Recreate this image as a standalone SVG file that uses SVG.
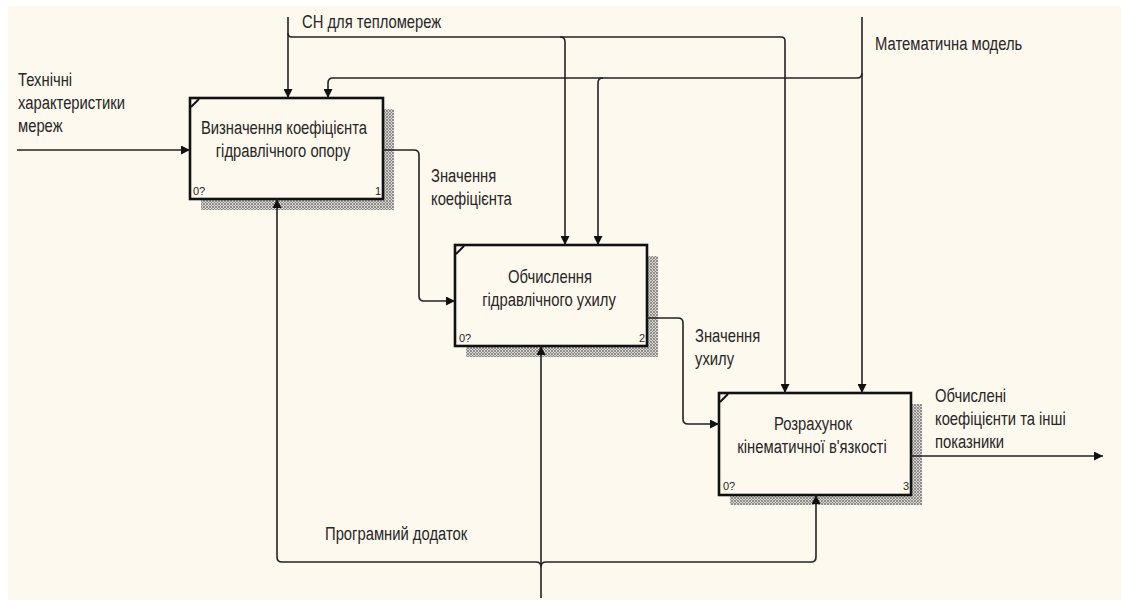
<svg xmlns="http://www.w3.org/2000/svg" width="1121" height="601" viewBox="0 0 1121 601">
  <style>
    .bg { fill: #fef9ef; }
    .box { fill: #fef9ef; stroke: #111; stroke-width: 2.6; }
    .shadow { fill: url(#hatch); }
    .corner { stroke: #111; stroke-width: 2; }
    .line { fill: none; stroke: #222; stroke-width: 1.6; }
    .arrow { marker-end: url(#head); }
    text { font-family: "Liberation Sans", Arial, sans-serif; fill: #262626; }
    .lbl { font-size: 14.8px; }
    .ctr { text-anchor: middle; }
    .num { font-size: 11px; }
    .end { text-anchor: end; }
  </style>
  <defs>
    <pattern id="hatch" width="3" height="3" patternUnits="userSpaceOnUse">
      <rect width="3" height="3" fill="#dcd9d2"/>
      <path d="M0,0 L3,3 M3,0 L0,3" stroke="#7a7a7a" stroke-width="0.8"/>
    </pattern>
    <marker id="head" viewBox="0 0 10 10" refX="10" refY="5" markerWidth="10" markerHeight="9" markerUnits="userSpaceOnUse" orient="auto">
      <path d="M0,0 L10,5 L0,10 Z" fill="#111"/>
    </marker>
  </defs>

  <!-- page -->
  <rect x="0" y="0" width="1121" height="601" fill="#ffffff"/>
  <rect class="bg" x="8" y="6" width="1113" height="594"/>

  <!-- activity boxes -->
  <g id="node-1">
    <rect class="shadow" x="201" y="109" width="193" height="101"/>
    <rect class="box" x="190" y="98" width="193" height="101"/>
    <line class="corner" x1="191" y1="107" x2="199" y2="99"/>
    <text class="lbl ctr" transform="matrix(1,0,0,1.18,284,134)">Визначення коефіцієнта</text>
    <text class="lbl ctr" transform="matrix(1,0,0,1.18,283,157)">гідравлічного опору</text>
    <text class="num" x="193" y="195">0?</text>
    <text class="num end" x="381" y="195">1</text>
  </g>

  <g id="node-2">
    <rect class="shadow" x="466" y="256" width="192" height="101"/>
    <rect class="box" x="455" y="245" width="192" height="101"/>
    <line class="corner" x1="456" y1="254" x2="464" y2="246"/>
    <text class="lbl ctr" transform="matrix(1,0,0,1.18,550,283)">Обчислення</text>
    <text class="lbl ctr" transform="matrix(1,0,0,1.18,549,306)">гідравлічного ухилу</text>
    <text class="num" x="459" y="342">0?</text>
    <text class="num end" x="645" y="342">2</text>
  </g>

  <g id="node-3">
    <rect class="shadow" x="730" y="404" width="192" height="101"/>
    <rect class="box" x="719" y="393" width="192" height="102"/>
    <line class="corner" x1="720" y1="402" x2="728" y2="394"/>
    <text class="lbl ctr" transform="matrix(1,0,0,1.18,813,430)">Розрахунок</text>
    <text class="lbl ctr" transform="matrix(1,0,0,1.18,812,453)">кінематичної в'язкості</text>
    <text class="num" x="723" y="490">0?</text>
    <text class="num end" x="909" y="490">3</text>
  </g>

  <!-- arrows -->
  <g id="connectors">
    <!-- input to box 1 -->
    <path class="line arrow" d="M17,150 H190"/>
    <!-- control: СН для тепломереж -->
    <path class="line arrow" d="M288,17 V98"/>
    <path class="line" d="M288,33 Q288,37 292,37 H781 Q785,37 785,41"/>
    <path class="line arrow" d="M785,41 V393"/>
    <path class="line" d="M560,37 Q565,37 565,42"/>
    <path class="line arrow" d="M565,42 V245"/>
    <!-- control: Математична модель -->
    <path class="line arrow" d="M862,17 V393"/>
    <path class="line" d="M862,73 Q862,78 857,78 H333 Q328,78 328,83"/>
    <path class="line arrow" d="M328,83 V98"/>
    <path class="line" d="M603,78 Q598,78 598,83"/>
    <path class="line arrow" d="M598,83 V245"/>
    <!-- box 1 to box 2 -->
    <path class="line arrow" d="M383,150 H414 Q419,150 419,155 V296 Q419,301 424,301 H455"/>
    <!-- box 2 to box 3 -->
    <path class="line arrow" d="M647,318 H678 Q683,318 683,323 V419 Q683,424 688,424 H719"/>
    <!-- output of box 3 -->
    <path class="line arrow" d="M911,456 H1103"/>
    <!-- mechanism: Програмний додаток -->
    <path class="line arrow" d="M541,598 V346"/>
    <path class="line" d="M536,562 H282 Q277,562 277,557"/>
    <path class="line arrow" d="M277,557 V199"/>
    <path class="line" d="M546,562 H811 Q816,562 816,557"/>
    <path class="line arrow" d="M816,557 V495"/>
    <path class="line" d="M536,562 Q541,562 541,567 Q541,562 546,562"/>
  </g>

  <!-- arrow labels -->
  <g id="labels">
    <text class="lbl" transform="matrix(1,0,0,1.18,18,86)">Технічні</text>
    <text class="lbl" transform="matrix(1,0,0,1.18,18,109)">характеристики</text>
    <text class="lbl" transform="matrix(1,0,0,1.18,18,132)">мереж</text>
    <text class="lbl" transform="matrix(1,0,0,1.18,302,28)">СН для тепломереж</text>
    <text class="lbl" transform="matrix(1,0,0,1.18,875,50)">Математична модель</text>
    <text class="lbl" transform="matrix(1,0,0,1.18,431,182)">Значення</text>
    <text class="lbl" transform="matrix(1,0,0,1.18,431,205)">коефіцієнта</text>
    <text class="lbl" transform="matrix(1,0,0,1.18,695,342)">Значення</text>
    <text class="lbl" transform="matrix(1,0,0,1.18,695,365)">ухилу</text>
    <text class="lbl" transform="matrix(1,0,0,1.18,935,402)">Обчислені</text>
    <text class="lbl" transform="matrix(1,0,0,1.18,935,425)">коефіцієнти та інші</text>
    <text class="lbl" transform="matrix(1,0,0,1.18,935,448)">показники</text>
    <text class="lbl" transform="matrix(1,0,0,1.18,325,540)">Програмний додаток</text>
  </g>
</svg>
